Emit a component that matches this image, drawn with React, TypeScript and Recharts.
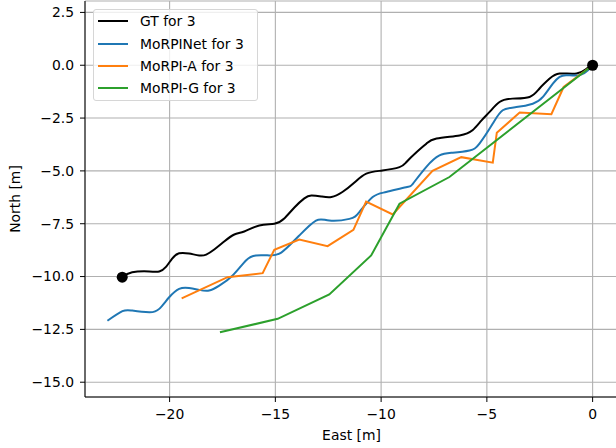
import React from 'react';
import {
  ComposedChart,
  Line,
  Scatter,
  XAxis,
  YAxis,
  CartesianGrid,
  Legend,
  Label,
} from 'recharts';

// ground truth trajectory
const gtEast = [-22.24, -21.77, -20.96, -20.49, -20.16, -19.88, -19.55, -19.08, -18.6, -18.27, -17.89, -17.42, -16.94, -16.47, -15.76, -15.05, -14.58, -14.1, -13.63, -13.3, -12.83, -12.35, -11.83, -11.26, -10.7, -9.94, -9.13, -8.8, -8.33, -7.86, -7.38, -6.29, -5.68, -5.25, -4.87, -4.4, -3.79, -2.98, -2.51, -2.03, -1.56, -0.76, -0.28, 0];
const gtNorth = [-10.03, -9.8, -9.76, -9.76, -9.53, -9.15, -8.9, -8.91, -9.0, -8.96, -8.72, -8.34, -8.01, -7.87, -7.58, -7.5, -7.25, -6.73, -6.3, -6.16, -6.21, -6.24, -6.0, -5.55, -5.13, -4.98, -4.82, -4.58, -4.12, -3.71, -3.47, -3.32, -3.08, -2.61, -2.21, -1.74, -1.58, -1.5, -1.1, -0.63, -0.39, -0.39, -0.16, 0];

const netEast = [-22.94, -22.23, -21.77, -20.96, -20.49, -20.02, -19.55, -19.08, -18.6, -18.13, -17.65, -17.02, -16.39, -15.92, -15.29, -14.81, -14.34, -13.87, -13.08, -12.45, -11.5, -11.03, -10.4, -9.76, -8.82, -8.5, -7.87, -7.24, -6.61, -5.82, -5.35, -4.72, -4.25, -3.61, -2.83, -2.35, -1.88, -1.56, -1.24, -0.62, -0.22, 0];
const netNorth = [-12.09, -11.64, -11.61, -11.69, -11.53, -10.98, -10.58, -10.54, -10.63, -10.66, -10.43, -9.95, -9.24, -9.0, -9.0, -8.92, -8.53, -8.06, -7.35, -7.35, -7.27, -6.95, -6.24, -6.0, -5.77, -5.61, -4.82, -4.27, -4.14, -4.03, -3.71, -2.76, -2.13, -1.98, -1.82, -1.5, -0.87, -0.55, -0.47, -0.47, -0.24, 0];

const aEast = [-19.43, -17.26, -15.6, -15.05, -13.87, -12.53, -11.31, -10.71, -9.45, -7.57, -6.21, -4.72, -4.53, -3.45, -1.95, -1.37, 0];
const aNorth = [-11.03, -10.03, -9.84, -8.73, -8.25, -8.56, -7.79, -6.45, -7.06, -5.0, -4.35, -4.61, -3.19, -2.24, -2.32, -1.03, 0];

const gEast = [-17.62, -14.89, -12.45, -10.47, -9.13, -6.77, 0];
const gNorth = [-12.64, -12.0, -10.85, -9.0, -6.55, -5.29, 0];

const xTicks = [-20, -15, -10, -5, 0];
const yTicks = [2.5, 0, -2.5, -5, -7.5, -10, -12.5, -15];

const zip = (xs: number[], ys: number[]) => xs.map((x, i) => ({ x, y: ys[i] }));

const gtData = zip(gtEast, gtNorth);
const netData = zip(netEast, netNorth);
const aData = zip(aEast, aNorth);
const gData = zip(gEast, gNorth);
const endPoints = [gtData[0], gtData[gtData.length - 1]];

const SERIES = [
  { name: 'GT for 3', color: '#000000' },
  { name: 'MoRPINet for 3', color: '#1f77b4' },
  { name: 'MoRPI-A for 3', color: '#ff7f0e' },
  { name: 'MoRPI-G for 3', color: '#2ca02c' },
];

const FONT = '"DejaVu Sans", sans-serif';
const minus = (s: string) => s.replace('-', '\u2212');

const LegendBox = () => (
  <div
    style={{
      width: 165,
      height: 92,
      boxSizing: 'border-box',
      background: 'rgba(255,255,255,0.8)',
      border: '1px solid #d6d6d6',
      borderRadius: 3,
      fontFamily: FONT,
      fontSize: 13.9,
      color: '#000',
    }}
  >
    {SERIES.map((s) => (
      <div key={s.name} style={{ display: 'flex', alignItems: 'center', height: 22.4 }}>
        <span style={{ display: 'inline-block', width: 30, height: 2, marginLeft: 4, marginRight: 12, background: s.color }} />
        <span>{s.name}</span>
      </div>
    ))}
  </div>
);

const Dot = (props: any) => <circle cx={props.cx} cy={props.cy} r={5.5} fill="#000" />;

const App = () => {
  return (
    <div style={{ position: 'fixed', left: 0, top: 0, width: 616, height: 448, overflow: 'hidden', background: '#fff' }}>
      <ComposedChart width={628} height={448} margin={{ top: 1, right: 10, left: 0, bottom: 0 }}>
        <CartesianGrid stroke="#b0b0b0" strokeWidth={1.1} />
        <XAxis
          dataKey="x"
          type="number"
          domain={[-24, 1.2]}
          ticks={xTicks}
          allowDataOverflow
          height={51}
          stroke="#000"
          tick={{ fill: '#000', fontSize: 13.9, fontFamily: FONT }}
          tickSize={5}
          tickMargin={7}
          tickFormatter={(v) => minus(String(v))}
        >
          <Label value="East [m]" position="insideBottom" offset={8} style={{ fill: '#000', fontSize: 13.9, fontFamily: FONT }} />
        </XAxis>
        <XAxis
          xAxisId="top"
          orientation="top"
          dataKey="x"
          type="number"
          domain={[-24, 1.2]}
          allowDataOverflow
          height={0}
          tick={false}
          tickLine={false}
          stroke="#000"
        />
        <YAxis
          dataKey="y"
          type="number"
          domain={[-15.7, 3.04]}
          ticks={yTicks}
          allowDataOverflow
          width={85}
          stroke="#000"
          tick={{ fill: '#000', fontSize: 13.9, fontFamily: FONT }}
          tickSize={5}
          tickMargin={6}
          tickFormatter={(v) => minus(Number(v).toFixed(1))}
        >
          <Label
            content={({ viewBox }: any) => (
              <text
                x={viewBox.x + 15}
                y={viewBox.y + viewBox.height / 2}
                transform={`rotate(-90, ${viewBox.x + 15}, ${viewBox.y + viewBox.height / 2})`}
                textAnchor="middle"
                dominantBaseline="central"
                fill="#000"
                fontSize={13.9}
                fontFamily={FONT}
              >
                North [m]
              </text>
            )}
          />
        </YAxis>
        <Legend
          layout="vertical"
          align="center"
          verticalAlign="middle"
          wrapperStyle={{ left: 93, top: 9, width: 165 }}
          content={() => <LegendBox />}
        />
        <Line data={gtData} dataKey="y" name={SERIES[0].name} type="natural" stroke={SERIES[0].color} strokeWidth={2} dot={false} isAnimationActive={false} />
        <Line data={netData} dataKey="y" name={SERIES[1].name} type="natural" stroke={SERIES[1].color} strokeWidth={2} dot={false} isAnimationActive={false} />
        <Line data={aData} dataKey="y" name={SERIES[2].name} type="linear" stroke={SERIES[2].color} strokeWidth={2} dot={false} isAnimationActive={false} />
        <Line data={gData} dataKey="y" name={SERIES[3].name} type="linear" stroke={SERIES[3].color} strokeWidth={2} dot={false} isAnimationActive={false} />
        <Scatter data={endPoints} dataKey="y" shape={<Dot />} isAnimationActive={false} legendType="none" />
      </ComposedChart>
    </div>
  );
};

export default App;
